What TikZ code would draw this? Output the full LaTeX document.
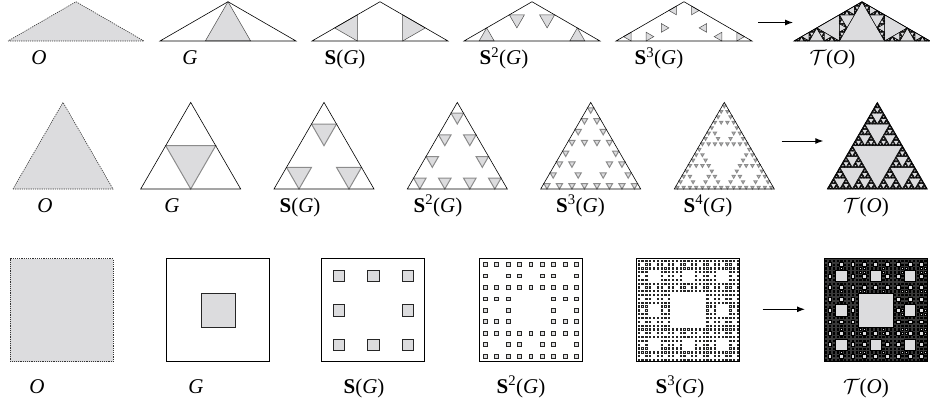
\documentclass[tikz,border=0pt]{standalone}
\usepackage{fontspec}
\setmainfont{Liberation Serif}
\usetikzlibrary{arrows.meta}
\definecolor{shade}{HTML}{DCDCDE}
\definecolor{rim}{HTML}{8C8C8C}
\tikzset{
    every node/.style={font=\fontsize{21}{24}\selectfont,inner sep=0pt,anchor=base},
    seed/.style={draw=black!80,fill=shade,line width=0.6pt,dash pattern=on 1.2pt off 1pt},
    hull/.style={draw=black,line width=0.6pt},
    flatpart/.style={draw=black!70,fill=shade,line width=0.5pt},
    tripart/.style={draw=rim,fill=shade,line width=1pt},
    sqpart/.style={draw=black!85,fill=shade,line width=0.6pt},
    limpart/.style={draw=black,fill=shade,line width=0.45pt},
    limsq/.style={draw=black,fill=shade,line width=0.3pt},
    limfill/.style={fill=black},
    tolimit/.style={draw,-{Latex[length=8pt,width=6pt]},line width=1pt}
}
% #1 depth, #2 style, #3 = 1 keeps every level
\newcommand\flatset[3]{%
  \ifnum#1<1 \path[#2] (1/3,0) -- (2/3,0) -- (1/2,0.288675) -- cycle;
  \else
    \ifnum#3=1\relax \path[#2] (1/3,0) -- (2/3,0) -- (1/2,0.288675) -- cycle;\fi
    \begin{scope}[cm={0.5,0.288675,0.288675,-0.5,(0,0)}]\flatset{\numexpr#1-1\relax}{#2}{#3}\end{scope}
    \begin{scope}[cm={0.5,-0.288675,-0.288675,-0.5,(0.5,0.288675)}]\flatset{\numexpr#1-1\relax}{#2}{#3}\end{scope}
  \fi}
\newcommand\sierpset[3]{%
  \ifnum#1<1 \path[#2] (0.25,0.433013) -- (0.75,0.433013) -- (0.5,0) -- cycle;
  \else
    \ifnum#3=1\relax \path[#2] (0.25,0.433013) -- (0.75,0.433013) -- (0.5,0) -- cycle;\fi
    \foreach \sx/\sy in {0/0,0.5/0,0.25/0.433013}{%
      \begin{scope}[shift={(\sx,\sy)},scale=0.5]\sierpset{\numexpr#1-1\relax}{#2}{#3}\end{scope}}
  \fi}
\newcommand\carpetset[3]{%
  \ifnum#1<1 \path[#2] (1/3,1/3) rectangle (2/3,2/3);
  \else
    \ifnum#3=1\relax \path[#2] (1/3,1/3) rectangle (2/3,2/3);\fi
    \foreach \cx/\cy in {0/0,1/0,2/0,0/1,2/1,0/2,1/2,2/2}{%
      \begin{scope}[shift={(\cx/3,\cy/3)},scale=1/3]\carpetset{\numexpr#1-1\relax}{#2}{#3}\end{scope}}
  \fi}

\begin{document}
\begin{tikzpicture}[x=1pt,y=1pt]
\useasboundingbox (0,0) rectangle (930,408);

% flat triangle
\begin{scope}[shift={(8,367)},scale=136]
\path[seed] (0,0) -- (1,0) -- (0.5,0.288675) -- cycle;
\end{scope}
\foreach \n/\xo in {0/160,1/312,2/464,3/616}{
\begin{scope}[shift={(\xo,367)},scale=136]
\flatset{\n}{flatpart}{0}
\path[hull] (0,0) -- (1,0) -- (0.5,0.288675) -- cycle;
\end{scope}}
\begin{scope}[shift={(794,367)},scale=136]
\path[limfill] (0,0) -- (1,0) -- (0.5,0.288675) -- cycle;
\flatset{8}{limpart}{1}
\path[hull] (0,0) -- (1,0) -- (0.5,0.288675) -- cycle;
\end{scope}
\coordinate (from1) at (758,385.5);
\coordinate (to1) at (793,385.5);
\draw[tolimit] (from1) -- (to1);
\node (o1) at (39,343) {\textit{O}};
\node (g1) at (190,343) {\textit{G}};
\node (s1) at (345,343) {\textbf{S}(\textit{G})};
\node (ss1) at (504,343) {\textbf{S}\textsuperscript{2}(\textit{G})};
\node (sss1) at (659,343) {\textbf{S}\textsuperscript{3}(\textit{G})};
\node (t1) at (832.5,343) {$\mathcal{T}$(\textit{O})};

% sierpinski triangle
\begin{scope}[shift={(13,219)},scale=100]
\path[seed] (0,0) -- (1,0) -- (0.5,0.866025) -- cycle;
\end{scope}
\foreach \n/\xo in {0/140.7,1/274,2/407.3,3/540.7,4/674.3}{
\begin{scope}[shift={(\xo,219)},scale=100]
\sierpset{\n}{tripart}{0}
\path[hull] (0,0) -- (1,0) -- (0.5,0.866025) -- cycle;
\end{scope}}
\begin{scope}[shift={(827.3,219)},scale=100]
\path[limfill] (0,0) -- (1,0) -- (0.5,0.866025) -- cycle;
\sierpset{5}{limpart}{1}
\path[hull] (0,0) -- (1,0) -- (0.5,0.866025) -- cycle;
\end{scope}
\coordinate (from2) at (781.7,267);
\coordinate (to2) at (823.3,267);
\draw[tolimit] (from2) -- (to2);
\node (o2) at (45,196) {\textit{O}};
\node (g2) at (172,196) {\textit{G}};
\node (s2) at (300,196) {\textbf{S}(\textit{G})};
\node (ss2) at (438,196) {\textbf{S}\textsuperscript{2}(\textit{G})};
\node (sss2) at (580.5,196) {\textbf{S}\textsuperscript{3}(\textit{G})};
\node (ssss2) at (708,196) {\textbf{S}\textsuperscript{4}(\textit{G})};
\node (t2) at (866,196) {$\mathcal{T}$(\textit{O})};

% carpet
\begin{scope}[shift={(10,46.3)},scale=103]
\path[seed] (0,0) rectangle (1,1);
\end{scope}
\foreach \n/\xo in {0/166.7,1/321.7,2/479.3,3/636.7}{
\begin{scope}[shift={(\xo,46.3)},scale=103]
\carpetset{\n}{sqpart}{0}
\path[hull] (0,0) rectangle (1,1);
\end{scope}}
\begin{scope}[shift={(824,46.3)},scale=103]
\path[fill=black!78] (0,0) rectangle (1,1);
\carpetset{3}{limsq}{1}
\path[hull] (0,0) rectangle (1,1);
\end{scope}
\coordinate (from3) at (762.7,98.7);
\coordinate (to3) at (805,98.7);
\draw[tolimit] (from3) -- (to3);
\node (o3) at (37,15) {\textit{O}};
\node (g3) at (196,15) {\textit{G}};
\node (s3) at (364,15) {\textbf{S}(\textit{G})};
\node (ss3) at (521,15) {\textbf{S}\textsuperscript{2}(\textit{G})};
\node (sss3) at (680,15) {\textbf{S}\textsuperscript{3}(\textit{G})};
\node (t3) at (866,15) {$\mathcal{T}$(\textit{O})};
\end{tikzpicture}
\end{document}
